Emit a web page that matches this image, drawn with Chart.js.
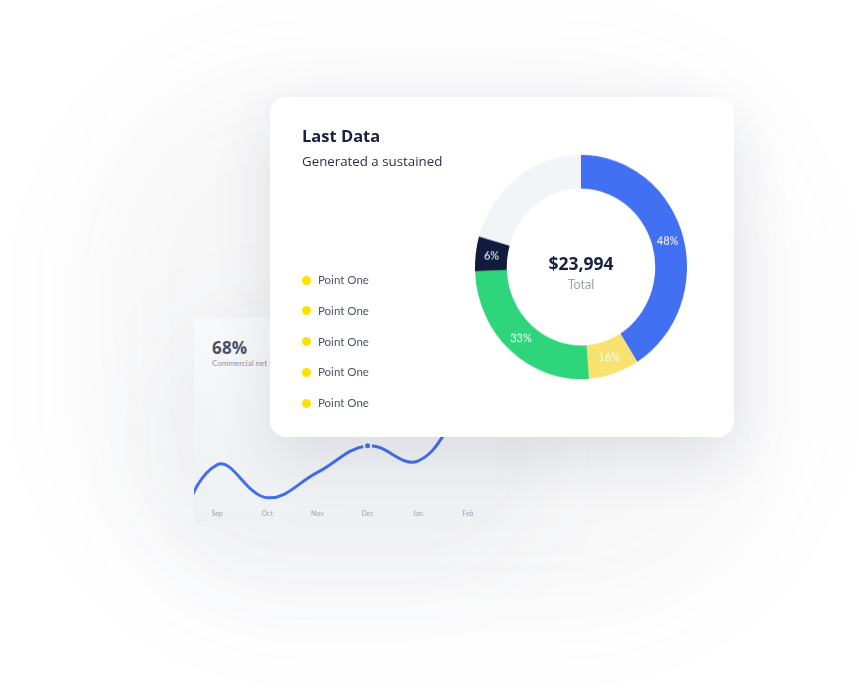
<!DOCTYPE html>
<html>
<head>
<meta charset="utf-8">
<script src="https://cdn.jsdelivr.net/npm/chart.js@4.4.1/dist/chart.umd.min.js"></script>
<style>
  html, body { margin: 0; padding: 0; background: #ffffff; }
  body { width: 859px; height: 700px; position: relative; overflow: hidden; font-family: "Open Sans", Lato, sans-serif; }
  .haze { position: absolute; left: 90px; top: 70px; width: 690px; height: 540px; border-radius: 200px;
          background: rgba(60, 70, 100, 0.045); filter: blur(50px); }
  .haze2 { position: absolute; left: 150px; top: 300px; width: 400px; height: 280px; border-radius: 120px;
          background: rgba(60, 70, 100, 0.04); filter: blur(40px); }
  .lineCard { position: absolute; left: 194px; top: 318px; width: 306px; height: 208px;
              background: linear-gradient(to bottom, #f8f9fa 0%, #f2f3f5 60%, #eff0f3 100%); }
  .bigPct { position: absolute; left: 212px; top: 336px; font-family: "Open Sans", sans-serif; font-weight: 700; font-size: 17px; color: #4a5268; letter-spacing: 0.2px; }
  .bigSub { position: absolute; left: 212px; top: 358px; font-family: Lato, sans-serif; font-size: 8px; color: #8e94a2; white-space: nowrap; }
  #lineChart { position: absolute; left: 194px; top: 380px; }
  .mainCard { position: absolute; left: 270px; top: 97px; width: 464px; height: 340px; background: #ffffff; border-radius: 16px;
              box-shadow: 0 20px 60px rgba(30, 40, 70, 0.11); }
  .title { position: absolute; left: 302px; top: 124px; font-family: "Open Sans", sans-serif; font-weight: 700; font-size: 16.5px; color: #18203f; white-space: nowrap; }
  .subtitle { position: absolute; left: 302px; top: 152px; font-family: "Open Sans", sans-serif; font-size: 13.3px; color: #2a3047; white-space: nowrap; }
  .legend { position: absolute; left: 302px; top: 272px; width: 140px; }
  .legend .item { height: 30.8px; position: relative; }
  .legend .dot { position: absolute; left: 0px; top: 3.5px; width: 9px; height: 9px; border-radius: 50%; }
  .legend .txt { position: absolute; left: 16px; top: 0px; font-family: Lato, sans-serif; font-size: 11.5px; color: #4c5366; line-height: 16px; white-space: nowrap; }
  #donutWrap { position: absolute; left: 475px; top: 161px; width: 212px; height: 212px; transform: scaleY(1.057); transform-origin: 50% 50%; }
  .centerVal { position: absolute; left: 480px; width: 202px; top: 251px; text-align: center; font-family: "Open Sans", sans-serif; font-weight: 700; font-size: 17.5px; color: #18203f; }
  .centerLbl { position: absolute; left: 480px; width: 202px; top: 277px; text-align: center; font-family: Lato, sans-serif; font-size: 12.5px; color: #9ca1ad; }
</style>
</head>
<body>
<div class="haze"></div>
<div class="haze2"></div>
<div class="lineCard"></div>
<div class="bigPct" id="bigPct"></div>
<div class="bigSub" id="bigSub"></div>
<canvas id="lineChart" width="306" height="141"></canvas>

<div class="mainCard"></div>
<div class="title" id="title"></div>
<div class="subtitle" id="subtitle"></div>
<div class="legend" id="legend"></div>
<div id="donutWrap"><canvas id="donut" width="212" height="212"></canvas></div>
<div class="centerVal" id="centerVal"></div>
<div class="centerLbl" id="centerLbl"></div>

<script>
// ---------- data ----------
const cardTitle = "Last Data";
const cardSubtitle = "Generated a sustained";
const legendLabels = ["Point One", "Point One", "Point One", "Point One", "Point One"];
const legendColor = "#ffe100";

const sliceNames = ["Blue", "Yellow", "Green", "Navy", "Rest"];
const sliceValues = [41.1, 7.7, 25.6, 5.0, 20.6];
const sliceLabels = ["48%", "16%", "33%", "6%", ""];
const sliceColors = ["#4170f3", "#f7e16f", "#2ed57b", "#111b3e", "#f2f4f8"];
const centerValue = "$23,994";
const centerLabel = "Total";

const lineHeadline = "68%";
const lineSubtitle = "Commercial net";
const months = ["Sep", "Oct", "Nov", "Dec", "Jan", "Feb"];
const monthValues = [33, 7, 27, 48, 36, 80];
const leadInValue = -35;   // point before Sep (only its curve is visible at the left edge)
const tailValue = 95;      // point after Feb (hidden under the front card)
const highlightMonth = "Dec";

// ---------- text ----------
document.getElementById("title").textContent = cardTitle;
document.getElementById("subtitle").textContent = cardSubtitle;
document.getElementById("centerVal").textContent = centerValue;
document.getElementById("centerLbl").textContent = centerLabel;
document.getElementById("bigPct").textContent = lineHeadline;
document.getElementById("bigSub").textContent = lineSubtitle;
const leg = document.getElementById("legend");
legendLabels.forEach(l => {
  const it = document.createElement("div"); it.className = "item";
  const d = document.createElement("div"); d.className = "dot"; d.style.background = legendColor;
  const t = document.createElement("div"); t.className = "txt"; t.textContent = l;
  it.appendChild(d); it.appendChild(t); leg.appendChild(it);
});

// ---------- donut ----------
const sliceLabelPlugin = {
  id: "sliceLabels",
  afterDatasetsDraw(chart) {
    const ctx = chart.ctx;
    const meta = chart.getDatasetMeta(0);
    ctx.save();
    ctx.fillStyle = "#ffffff";
    ctx.font = "11px Lato, sans-serif";
    ctx.textAlign = "center";
    ctx.textBaseline = "middle";
    meta.data.forEach((arc, i) => {
      const txt = sliceLabels[i];
      if (!txt) return;
      const p = arc.tooltipPosition();
      ctx.fillText(txt, p.x, p.y);
    });
    ctx.restore();
  }
};

new Chart(document.getElementById("donut"), {
  type: "doughnut",
  data: {
    labels: sliceNames,
    datasets: [{
      data: sliceValues,
      backgroundColor: sliceColors,
      borderWidth: 0,
      hoverOffset: 0
    }]
  },
  options: {
    responsive: false,
    animation: false,
    cutout: "70%",
    layout: { padding: 0 },
    plugins: { legend: { display: false }, tooltip: { enabled: false } },
    events: []
  },
  plugins: [sliceLabelPlugin]
});

// ---------- line ----------
const linePoints = [{ x: -1, y: leadInValue }]
  .concat(monthValues.map((v, i) => ({ x: i, y: v })))
  .concat([{ x: months.length, y: tailValue }]);
const hi = months.indexOf(highlightMonth) + 1;

new Chart(document.getElementById("lineChart"), {
  type: "line",
  data: {
    datasets: [{
      data: linePoints,
      borderColor: "#4270ec",
      borderWidth: 3,
      tension: 0.4,
      fill: false,
      pointRadius: linePoints.map((p, i) => i === hi ? 3.5 : 0),
      pointBackgroundColor: "#4270ec",
      pointBorderColor: "#f3f4f7",
      pointBorderWidth: 2
    }]
  },
  options: {
    responsive: false,
    animation: false,
    layout: { padding: 0 },
    plugins: { legend: { display: false }, tooltip: { enabled: false } },
    events: [],
    scales: {
      x: {
        type: "linear",
        min: -0.46,
        max: 5.64,
        grid: { display: false, drawTicks: false },
        border: { display: false },
        ticks: {
          stepSize: 1,
          includeBounds: false,
          autoSkip: false,
          maxRotation: 0,
          padding: 3,
          color: "#9ea3ae",
          font: { family: "Lato, sans-serif", size: 7 },
          callback: (v) => (Number.isInteger(v) && months[v]) ? months[v] : ""
        }
      },
      y: {
        display: false,
        min: 0,
        max: 100
      }
    }
  }
});
</script>
</body>
</html>
